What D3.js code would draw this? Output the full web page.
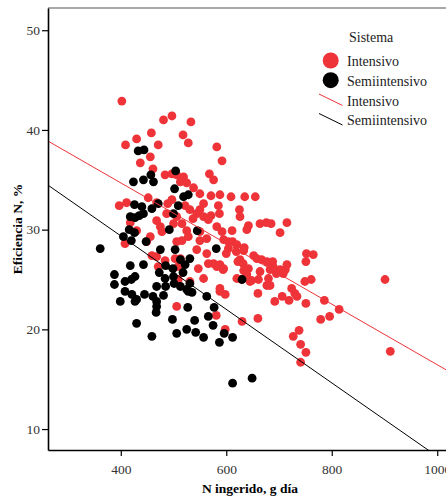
<!DOCTYPE html>
<html><head><meta charset="utf-8">
<script src="https://cdn.jsdelivr.net/npm/d3@7"></script>
<style>html,body{margin:0;padding:0;background:#fff;overflow:hidden}</style>
</head><body>
<svg id="chart" width="446" height="497"></svg>
<script>
// ---- data ----
const xTicks = [400, 600, 800, 1000];
const yTicks = [10, 20, 30, 40, 50];
const seriesNames = ["Intensivo", "Semiintensivo"];
const seriesColors = ["#ee3339", "#000000"];
const xTitle = "N ingerido, g día";
const yTitle = "Eficiencia N, %";
const legendTitle = "Sistema";

const intensivoX = [402,481,497,533,458,518,430,528,409,471,582,456,592,437,461,484,497,506,519,513,525,568,576,538,550,571,588,452,397,411,468,489,497,522,550,531,544,557,571,587,582,418,430,468,475,487,506,516,525,478,528,550,563,449,408,500,456,506,516,459,484,503,513,509,468,471,509,531,506,581,547,557,566,588,598,576,588,598,609,655,557,585,625,626,566,537,642,639,664,676,685,715,702,611,592,550,595,604,612,620,604,634,633,652,658,544,563,582,595,626,633,642,667,677,688,702,712,715,664,680,695,588,648,661,620,639,677,635,600,619,686,689,683,708,752,765,751,622,632,629,645,683,594,660,692,706,719,724,730,734,751,749,761,786,814,779,796,901,911,660,630,738,727,741,751,741];
const intensivoY = [42.9,41.0,41.4,40.8,39.7,39.5,39.1,38.7,38.5,38.5,38.3,37.3,36.9,36.7,36.1,35.5,35.6,35.5,35.3,34.8,34.7,35.6,35.0,34.2,33.6,33.4,33.5,33.2,32.4,32.7,32.7,32.6,33.0,32.4,32.0,32.0,31.6,31.3,31.4,31.6,30.3,30.7,29.9,30.9,30.3,31.6,31.3,30.6,29.9,29.8,29.3,28.9,29.1,28.8,28.6,30.6,29.3,28.8,28.9,27.4,26.9,27.1,27.1,26.3,27.3,26.3,25.0,24.8,22.3,21.4,26.1,25.1,26.6,23.8,23.5,26.6,26.5,20.0,33.3,33.3,32.6,32.4,32.0,31.3,31.0,31.1,30.4,30.0,30.6,30.7,30.6,30.7,29.7,29.9,29.8,29.8,29.0,28.8,28.8,28.5,28.1,28.2,27.9,27.4,27.1,28.0,27.6,26.3,26.1,27.0,25.9,26.1,27.0,26.8,26.8,26.0,26.0,26.5,25.8,25.1,25.6,24.1,24.9,25.0,25.1,25.5,24.4,33.3,27.6,27.8,26.6,26.3,26.0,25.6,27.6,27.5,26.8,26.8,26.6,25.0,24.8,24.4,26.0,23.6,22.8,23.3,22.9,24.1,23.6,23.3,22.6,24.8,25.0,22.9,22.0,21.0,21.3,25.0,17.8,21.1,20.8,19.9,19.3,18.5,17.7,16.7];

const semiX = [433,444,424,443,457,462,504,502,519,528,471,426,440,418,427,435,443,459,509,500,492,545,405,416,426,420,448,361,475,503,581,443,418,388,388,408,420,427,408,421,430,427,399,445,430,459,513,531,485,499,473,484,468,485,461,481,468,468,467,518,501,513,525,535,528,563,577,527,498,540,566,575,506,525,542,557,587,596,630,612,612,649,531,522,500];
const semiY = [37.9,38.0,34.8,35.0,35.5,34.8,35.9,34.1,33.3,33.5,32.6,32.5,32.3,31.3,31.2,31.4,31.6,32.1,32.4,31.6,30.0,29.9,29.3,30.0,29.7,28.9,28.8,28.1,28.0,28.0,28.1,26.5,26.4,25.5,24.5,24.8,25.0,25.3,23.8,23.5,23.0,22.8,22.8,23.5,20.6,19.3,27.0,27.1,26.4,26.1,25.7,25.1,24.3,24.3,23.3,23.4,22.8,22.3,21.7,25.7,24.6,24.3,24.0,23.7,23.8,23.3,22.2,22.2,21.0,20.9,21.3,20.4,19.6,20.0,19.7,19.2,18.7,19.6,25.0,19.2,14.6,15.1,24.6,26.5,25.3];

// linear fit lines (intercept, slope) per series
const fitIntercepts = [46.85, 44.12];
const fitSlopes = [-0.0304, -0.03686];

// ---- layout ----
const svg = d3.select("#chart");
const margin = {left: 48, top: 8};
const plotW = 404, plotH = 442;
const x = d3.scaleLinear().domain([262, 1028]).range([margin.left, margin.left + plotW]);
const y = d3.scaleLinear().domain([7.9, 52.23]).range([margin.top + plotH, margin.top]);
const font = "'Liberation Serif','Times New Roman',serif";

svg.append("defs").append("clipPath").attr("id","clip")
  .append("rect").attr("x", margin.left).attr("y", margin.top).attr("width", plotW).attr("height", plotH);

// frame top line
svg.append("line").attr("x1", margin.left).attr("x2", margin.left + plotW)
  .attr("y1", margin.top).attr("y2", margin.top).attr("stroke", "#555").attr("stroke-width", 1);

// points
const gPts = svg.append("g").attr("clip-path","url(#clip)");
const sets = [[intensivoX, intensivoY], [semiX, semiY]];
sets.forEach((s, i) => {
  gPts.selectAll(null).data(d3.range(s[0].length)).enter().append("circle")
    .attr("cx", k => x(s[0][k])).attr("cy", k => y(s[1][k]))
    .attr("r", 4.4).attr("fill", seriesColors[i]);
});

// fit lines
const xd = x.domain();
fitIntercepts.forEach((b, i) => {
  gPts.append("line")
    .attr("x1", x(xd[0])).attr("y1", y(b + fitSlopes[i] * xd[0]))
    .attr("x2", x(xd[1])).attr("y2", y(b + fitSlopes[i] * xd[1]))
    .attr("stroke", seriesColors[i]).attr("stroke-width", 1);
});

// axes
const xAxis = svg.append("g").attr("transform", `translate(0,${margin.top + plotH})`)
  .call(d3.axisBottom(x).tickValues(xTicks).tickSize(6).tickSizeOuter(0).tickFormat(d3.format("d")));
const yAxis = svg.append("g").attr("transform", `translate(${margin.left},0)`)
  .call(d3.axisLeft(y).tickValues(yTicks).tickSize(6).tickSizeOuter(0).tickFormat(d3.format("d")));
[xAxis, yAxis].forEach(a => {
  a.select(".domain").attr("stroke", "#000").attr("stroke-width", 1.6);
  a.selectAll(".tick line").attr("stroke", "#000").attr("stroke-width", 1.2);
  a.selectAll(".tick text").attr("font-family", font).attr("font-size", 13.5).attr("fill", "#333");
});
xAxis.selectAll(".tick text").attr("dy", 0).attr("y", 24);
yAxis.selectAll(".tick text").attr("x", -8);

// axis titles
svg.append("text").attr("x", 250).attr("y", 493).attr("text-anchor", "middle")
  .attr("font-family", font).attr("font-weight", "bold").attr("font-size", 13.5).text(xTitle);
svg.append("text").attr("transform", `translate(22,${margin.top + plotH / 2}) rotate(-90)`)
  .attr("text-anchor", "middle").attr("font-family", font).attr("font-weight", "bold")
  .attr("font-size", 13.5).text(yTitle);

// legend
const lg = svg.append("g");
lg.append("text").attr("x", 349).attr("y", 42).attr("font-family", font).attr("font-size", 14).attr("fill", "#222").text(legendTitle);
seriesNames.forEach((n, i) => {
  lg.append("circle").attr("cx", 330.7).attr("cy", 60.5 + i * 19.7).attr("r", 8).attr("fill", seriesColors[i]);
  lg.append("text").attr("x", 347).attr("y", 66 + i * 20).attr("font-family", font).attr("font-size", 14).attr("fill", "#222").text(n);
  lg.append("line").attr("x1", 319).attr("y1", 94 + i * 19.5).attr("x2", 342.5).attr("y2", 105.5 + i * 19.5)
    .attr("stroke", seriesColors[i]).attr("stroke-width", 1);
  lg.append("text").attr("x", 347).attr("y", 105.5 + i * 19.7).attr("font-family", font).attr("font-size", 14).attr("fill", "#222").text(n);
});
</script>
</body></html>
